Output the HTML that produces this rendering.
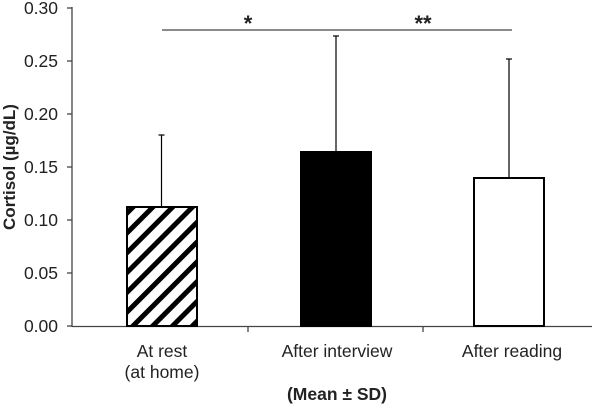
<!DOCTYPE html>
<html><head><style>body{margin:0;background:#fff}</style></head><body>
<svg width="600" height="408" xmlns="http://www.w3.org/2000/svg" font-family="Liberation Sans, Arial, sans-serif">
<defs>
<pattern id="h" patternUnits="userSpaceOnUse" width="14" height="14" patternTransform="rotate(45)">
<rect width="14" height="14" fill="#fff"/><rect width="5" height="14" fill="#000"/>
</pattern>
</defs>
<g stroke="#444" stroke-width="1.3" fill="none">
<line x1="72" y1="7" x2="72" y2="327"/>
<line x1="72" y1="326.5" x2="592" y2="326.5"/>
<line x1="67" y1="8" x2="72" y2="8"/>
<line x1="67" y1="61" x2="72" y2="61"/>
<line x1="67" y1="114" x2="72" y2="114"/>
<line x1="67" y1="167" x2="72" y2="167"/>
<line x1="67" y1="220" x2="72" y2="220"/>
<line x1="67" y1="273" x2="72" y2="273"/>
<line x1="67" y1="326" x2="72" y2="326"/>
<line x1="248" y1="326" x2="248" y2="332"/>
<line x1="423" y1="326" x2="423" y2="332"/>
<line x1="162" y1="30" x2="512" y2="30"/>
</g>
<g stroke="#000" stroke-width="1.2">
<line x1="161.5" y1="135" x2="161.5" y2="206"/><line x1="158.5" y1="135" x2="164.5" y2="135"/>
<line x1="336" y1="36" x2="336" y2="151"/><line x1="333" y1="36" x2="339" y2="36"/>
<line x1="509" y1="59" x2="509" y2="177"/><line x1="506" y1="59" x2="512" y2="59"/>
</g>
<rect x="127" y="207" width="70" height="119" fill="url(#h)" stroke="#000" stroke-width="2"/>
<rect x="301" y="152" width="70" height="174" fill="#000" stroke="#000" stroke-width="2"/>
<rect x="474" y="178" width="70" height="148" fill="#fff" stroke="#000" stroke-width="2"/>
<g font-size="17.5" fill="#222" text-anchor="end">
<text x="58" y="14">0.30</text><text x="58" y="67">0.25</text><text x="58" y="120">0.20</text>
<text x="58" y="173">0.15</text><text x="58" y="226">0.10</text><text x="58" y="279">0.05</text><text x="58" y="332">0.00</text>
</g>
<g font-size="17.5" fill="#222" text-anchor="middle">
<text x="162" y="357">At rest</text><text x="162" y="378">(at home)</text>
<text x="337" y="357">After interview</text>
<text x="512" y="357">After reading</text>
<text x="248" y="31" font-size="22" font-weight="bold">*</text>
<text x="423" y="31" font-size="22" font-weight="bold">**</text>
<text x="337" y="400" font-weight="bold">(Mean ± SD)</text>
<text transform="translate(15,167) rotate(-90)" font-weight="bold" font-size="17">Cortisol (µg/dL)</text>
</g>
</svg>
</body></html>
